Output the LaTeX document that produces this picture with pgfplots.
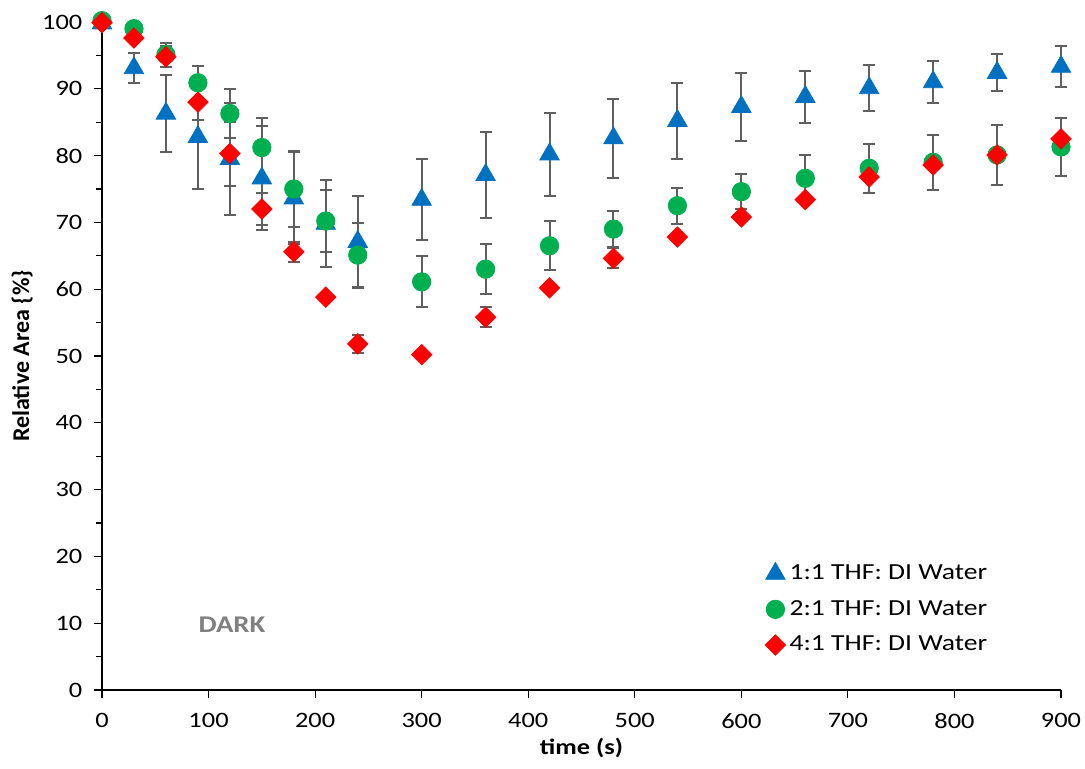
\documentclass[border=0pt]{standalone}
\usepackage{fontspec}
\setmainfont{Carlito}[FakeStretch=1.2]
\newfontfamily\ylabfont{Carlito}
\usepackage{pgfplots}
\usepackage{pgfplotstable}
\pgfplotsset{compat=1.18}
\definecolor{sblue}{HTML}{0070C0}
\definecolor{sgreen}{HTML}{00B050}
\definecolor{sred}{HTML}{FF0000}
\definecolor{errgray}{HTML}{5F5F5F}
\definecolor{darkgray}{HTML}{808080}

\pgfplotstableread{
x y e
0 99.8 0
30 93.1 2.2
60 86.3 5.8
90 82.8 7.8
120 79.5 8.4
150 76.6 7.8
180 73.6 6.9
210 69.8 6.5
240 67.1 6.9
300 73.4 6.1
360 77.1 6.4
420 80.2 6.2
480 82.6 5.9
540 85.2 5.7
600 87.3 5.1
660 88.8 3.9
720 90.1 3.4
780 91.0 3.1
840 92.4 2.8
900 93.3 3.1
}\tblA

\pgfplotstableread{
x y e
0 100.2 0
30 99.0 0
60 95.1 1.8
90 90.9 2.5
120 86.3 3.6
150 81.2 4.4
180 75.0 5.7
210 70.2 4.6
240 65.1 4.8
300 61.1 3.8
360 63.0 3.7
420 66.5 3.7
480 69.0 2.7
540 72.5 2.7
600 74.6 2.6
660 76.6 3.5
720 78.1 3.7
780 79.0 4.1
840 80.1 4.5
900 81.3 4.4
}\tblB

\pgfplotstableread{
x y e
0 99.9 0
30 97.6 0
60 94.8 1.6
90 88.0 2.7
120 80.3 4.8
150 72.0 2.4
180 65.6 1.5
210 58.8 0
240 51.8 1.3
300 50.2 0
360 55.8 1.5
420 60.2 0
480 64.6 1.5
540 67.8 0
600 70.8 0
660 73.4 0
720 76.8 0
780 78.6 0
840 80.1 0
900 82.5 0
}\tblC

\begin{document}
\begin{tikzpicture}
\useasboundingbox (-51pt,-39.5pt) rectangle (491.5pt,345pt);
\begin{axis}[
  at={(0,0)}, anchor=south west,
  scale only axis, width=479.5pt, height=334pt,
  xmin=0, xmax=900, ymin=0, ymax=100,
  axis lines*=left,
  axis line style={line width=0.7pt, black},
  xtick={0,100,...,900}, ytick={0,10,...,100},
  minor ytick={5,15,...,95},
  tick align=outside,
  major tick length=3.8pt, minor tick length=3.2pt,
  tick style={line width=0.6pt, black},
  /pgf/number format/assume math mode=true,
  tick label style={font=\fontsize{11}{13}\selectfont},
  yticklabel style={xshift=-2.5pt},
  xticklabel style={yshift=-4.5pt},
  xlabel={\textbf{time (s)}},
  ylabel={\ylabfont\bfseries Relative Area \{\%\}},
  label style={font=\fontsize{11}{13}\selectfont},
  xlabel style={at={(axis description cs:0.5,-0.0868)}, anchor=center},
  ylabel style={at={(axis description cs:-0.0833,0.5)}, anchor=center, font=\fontsize{12}{14}\selectfont},
  clip=false,
  legend cell align=left,
  legend image code/.code={\draw[mark repeat=2,mark phase=2] plot coordinates {(0pt,0pt)(3.5pt,0pt)(7pt,0pt)};},
  legend style={at={(axis description cs:0.687,0.200)}, anchor=north west, draw=none, fill=none,
    font=\fontsize{11.5}{13.5}\selectfont, row sep=4.9pt, inner sep=2pt},
  error bars/y dir=both, error bars/y explicit,
  error bars/error mark options={rotate=90, mark size=3pt, line width=1pt, draw=errgray},
  error bars/error bar style={line width=1pt, draw=errgray},
]
\addplot[only marks, mark=triangle*, mark size=5.6pt, color=sblue, mark options={fill=sblue, draw=sblue}]
  table[x=x, y=y, y error=e] {\tblA};
\addlegendentry{1:1 THF: DI Water}
\addplot[only marks, mark=*, mark size=4.6pt, color=sgreen, mark options={fill=sgreen, draw=sgreen}]
  table[x=x, y=y, y error=e] {\tblB};
\addlegendentry{2:1 THF: DI Water}
\addplot[only marks, mark=square*, mark size=3.6pt, color=sred, mark options={fill=sred, draw=sred, rotate=45}]
  table[x=x, y=y, y error=e] {\tblC};
\addlegendentry{4:1 THF: DI Water}
\node[font=\fontsize{12}{14}\selectfont\bfseries, text=darkgray] at (axis cs:122,9.7) {DARK};
\end{axis}
\end{tikzpicture}
\end{document}
